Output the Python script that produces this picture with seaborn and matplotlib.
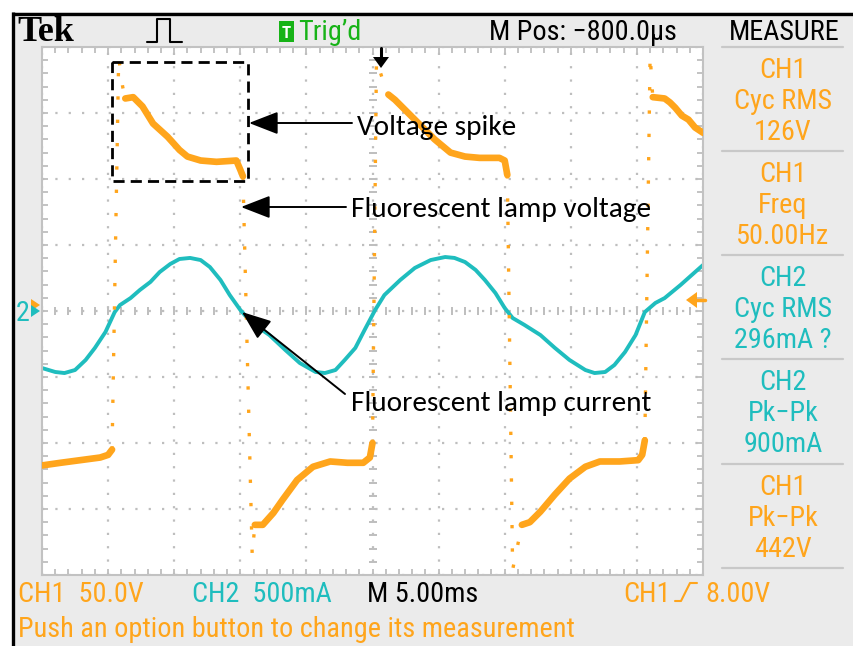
import matplotlib
matplotlib.use("Agg")
import matplotlib.pyplot as plt
from matplotlib import font_manager as fm
from matplotlib.patches import Rectangle, Polygon
from matplotlib.ticker import MultipleLocator
import numpy as np
import pandas as pd
import seaborn as sns

# ---------------- data ----------------
# CH2: lamp current, time in ms (5 ms/div), current in mA (500 mA/div)
cur_t = [0.0, 1.0, 1.7, 2.5, 3.3, 4.0, 4.8, 5.5, 5.9, 6.7,
         7.4, 8.2, 8.9, 9.7, 10.4, 11.2, 12.0, 12.7, 13.5, 14.2,
         15.0, 15.4, 16.1, 17.2, 18.4, 19.5, 20.7, 21.4, 22.2, 22.9,
         23.7, 24.4, 25.2, 25.9, 27.1, 28.2, 29.4, 30.5, 31.2, 32.0,
         32.8, 33.5, 34.3, 35.0, 35.6, 36.5, 37.7, 38.8, 39.9, 41.1,
         41.8, 42.6, 43.3, 44.1, 44.9, 45.6, 46.4, 47.1, 48.3, 49.4, 50.0]
cur_mA = [-432, -462, -470, -447, -371, -280, -159, -8, 45, 98,
          159, 220, 295, 356, 394, 402, 386, 333, 235, 121,
          8, -38, -106, -182, -295, -394, -462, -470, -447, -371,
          -280, -144, 8, 121, 235, 326, 386, 409, 402, 371,
          311, 235, 136, 23, -53, -106, -182, -280, -371, -447,
          -470, -462, -409, -311, -182, -8, 61, 98, 197, 295, 348]

# CH1: lamp voltage (50 V/div), plateaus (solid) and fast edges (dotted)
seg0_t = [0.0, 1.4, 2.9, 4.4, 5.0, 5.3]
seg0_V = [-117, -115, -113, -111, -109, -105]
edge1_t = [5.3, 5.8, 6.1, 6.3]
edge1_V = [-105, 192, 170, 161]
seg1_t = [6.3, 6.9, 7.6, 8.4, 9.5, 10.4, 11.0, 12.0, 13.2, 14.7, 15.0, 15.2]
seg1_V = [161, 162, 155, 142, 132, 122, 117, 114, 113, 114, 107, 102]
edge2_t = [15.2, 15.9, 16.1]
edge2_V = [102, -185, -162]
seg2_t = [16.1, 16.7, 17.5, 18.2, 19.3, 20.5, 21.8, 23.1, 24.3, 24.8, 25.0]
seg2_V = [-162, -162, -153, -143, -128, -118, -114, -115, -115, -111, -100]
edge3_t = [25.0, 25.3, 26.0, 26.2]
edge3_V = [-100, 190, 168, 164]
seg3_t = [26.2, 26.7, 27.5, 28.6, 29.7, 30.9, 32.0, 33.1, 34.6, 35.0, 35.2]
seg3_V = [164, 160, 152, 141, 130, 120, 117, 116, 116, 114, 103]
edge4_t = [35.2, 35.6, 36.3]
edge4_V = [103, -196, -162]
seg4_t = [36.3, 36.9, 37.7, 38.8, 39.9, 41.1, 42.2, 43.7, 45.1, 45.4, 45.6]
seg4_V = [-162, -160, -152, -139, -127, -118, -114, -114, -113, -109, -98]
edge5_t = [45.6, 46.0, 46.2]
edge5_V = [-98, 194, 162]
seg5_t = [46.2, 47.1, 47.5, 47.9, 48.4, 48.9, 49.4, 50.0]
seg5_V = [162, 161, 158, 154, 148, 145, 139, 135]

plateaus = [(seg0_t, seg0_V), (seg1_t, seg1_V), (seg2_t, seg2_V),
            (seg3_t, seg3_V), (seg4_t, seg4_V), (seg5_t, seg5_V)]
edges = [(edge1_t, edge1_V), (edge2_t, edge2_V), (edge3_t, edge3_V),
         (edge4_t, edge4_V), (edge5_t, edge5_V)]

header_texts = ["Tek", "Trig\u2019d", "M Pos: \u2212800.0\u00b5s", "MEASURE"]
measure_groups = [("CH1", "Cyc RMS", "126V"), ("CH1", "Freq", "50.00Hz"),
                  ("CH2", "Cyc RMS", "296mA ?"), ("CH2", "Pk\u2212Pk", "900mA"),
                  ("CH1", "Pk\u2212Pk", "442V")]
measure_channels = ["CH1", "CH1", "CH2", "CH2", "CH1"]
bottom_scale = ["CH1  50.0V", "CH2  500mA", "M 5.00ms", "CH1", "8.00V"]
status_text = "Push an option button to change its measurement"
notes = ["Voltage spike", "Fluorescent lamp voltage", "Fluorescent lamp current"]

# ---------------- styling ----------------
ORANGE = "#FFA51C"
TEAL = "#1FBDBE"
GREEN = "#17B317"
PANEL = "#EBEBEB"
GRID = "#BEBEBE"

sns.set_theme(style="white")
plt.rcParams["font.family"] = ["DejaVu Sans"]

names = {f.name for f in fm.fontManager.ttflist}
SCOPE_FONT = next((n for n in ["Roboto Condensed", "Liberation Sans Narrow",
                               "Archivo Narrow", "Liberation Sans"] if n in names), "DejaVu Sans")
NOTE_FONT = next((n for n in ["Carlito", "Calibri", "Lato", "Open Sans"] if n in names), "DejaVu Sans")

W, H = 854, 646
fig = plt.figure(figsize=(W / 100, H / 100), dpi=100)
fig.patch.set_facecolor(PANEL)
renderer = fig.canvas.get_renderer()


def fit_size(s, family, target, base=20, **kw):
    t = fig.text(0, 0, s, fontfamily=family, fontsize=base, **kw)
    w = t.get_window_extent(renderer).width
    t.remove()
    return base * target / w


SF = [SCOPE_FONT, "DejaVu Sans"]
NF = [NOTE_FONT, "DejaVu Sans"]
SCOPE_SIZE = fit_size(status_text, SF, 554)
NOTE_SIZE = fit_size(notes[1], NF, 300)
TEK_SIZE = fit_size("Tek", "Liberation Serif", 57, fontweight="bold")

# ---------------- scope screen ----------------
L, R, T, B = 42, 703, 47, 575
ax = fig.add_axes([L / W, 1 - B / H, (R - L) / W, (B - T) / H])
ax.set_facecolor("white")
ax.set_xlim(0, 50)
ax.set_ylim(-2000, 2000)          # CH2 scale, 500 mA/div
ax.xaxis.set_major_locator(MultipleLocator(5))
ax.xaxis.set_minor_locator(MultipleLocator(1))
ax.yaxis.set_major_locator(MultipleLocator(500))
ax.yaxis.set_minor_locator(MultipleLocator(100))
ax.set_axisbelow(True)
ax.grid(True, which="major", color=GRID, linestyle=(0, (1, 5.0)), linewidth=1.6)
for s in ax.spines.values():
    s.set_color("#C2C2C2")
    s.set_linewidth(1.5)
# centre cross-hair ticks
ax.plot(np.arange(0, 50.01, 1), np.zeros(51), ls="none", marker="|", ms=6, mew=1.4, color=GRID, zorder=1)
ax.plot(np.full(41, 25.0), np.arange(-2000, 2001, 100), ls="none", marker="_", ms=6, mew=1.4, color=GRID, zorder=1)

cur_df = pd.DataFrame({"t": cur_t, "mA": cur_mA})
sns.lineplot(data=cur_df, x="t", y="mA", sort=False, estimator=None, color=TEAL, lw=2.8, ax=ax)

axv = ax.twinx()
axv.set_ylim(-200, 200)           # CH1 scale, 50 V/div
axv.set_xlim(0, 50)
rows = []
for i, (tt, vv) in enumerate(plateaus):
    rows += [{"t": a, "V": b, "seg": i} for a, b in zip(tt, vv)]
pl_df = pd.DataFrame(rows)
rows = []
for i, (tt, vv) in enumerate(edges):
    rows += [{"t": a, "V": b, "seg": i} for a, b in zip(tt, vv)]
ed_df = pd.DataFrame(rows)
sns.lineplot(data=pl_df, x="t", y="V", units="seg", estimator=None, sort=False,
             color=ORANGE, lw=4.8, ax=axv)
sns.lineplot(data=ed_df, x="t", y="V", units="seg", estimator=None, sort=False,
             color=ORANGE, lw=2.4, linestyle=(0, (1, 6)), ax=axv)
axv.axis("off")

ax.set_xlabel("")
ax.set_ylabel("")
ax.tick_params(which="both", direction="in", length=4, width=1.3, color=GRID,
               top=True, right=True, bottom=True, left=True,
               labelbottom=False, labelleft=False, labeltop=False, labelright=False)
if ax.get_legend():
    ax.get_legend().remove()

# ---------------- overlay (pixel coordinates) ----------------
ov = fig.add_axes([0, 0, 1, 1], zorder=20)
ov.set_xlim(0, W)
ov.set_ylim(H, 0)
ov.axis("off")
ov.patch.set_alpha(0)

# outer frame
ov.add_patch(Rectangle((0, 0), W, 12, color="white", lw=0))
ov.add_patch(Rectangle((0, 0), 12, H, color="white", lw=0))
ov.plot([13.5, 13.5], [12, H], color="black", lw=2.4, solid_capstyle="butt")
ov.plot([12, W], [13.5, 13.5], color="black", lw=2.4, solid_capstyle="butt")

# header
ov.text(17, 41, header_texts[0], fontfamily="Liberation Serif", fontweight="bold",
        fontsize=TEK_SIZE, color="black", ha="left", va="baseline")
ov.plot([147, 157, 157, 170, 170, 182], [42, 42, 19, 19, 42, 42], color="black", lw=1.5)
ov.add_patch(Rectangle((279, 21), 15, 21, color=GREEN, lw=0))
ov.text(286.5, 38, "T", fontfamily=SF, fontsize=SCOPE_SIZE * 0.6, color="white",
        ha="center", va="baseline", fontweight="bold")
ov.text(298, 40, header_texts[1], fontfamily=SF, fontsize=SCOPE_SIZE, color=GREEN, ha="left", va="baseline")
ov.text(489, 40, header_texts[2], fontfamily=SF, fontsize=SCOPE_SIZE, color="black", ha="left", va="baseline")
ov.text(729, 40, header_texts[3], fontfamily=SF, fontsize=SCOPE_SIZE, color="black", ha="left", va="baseline")

# measurement panel
seps = [47, 151, 255, 359, 464, 568]
for y in seps:
    ov.plot([722, 843], [y, y], color="#C8C8C8", lw=1.6)
for g, (lines, ch) in enumerate(zip(measure_groups, measure_channels)):
    col = ORANGE if ch == "CH1" else TEAL
    for k, s in enumerate(lines):
        ov.text(783, seps[g] + 31 + 31 * k, s, fontfamily=SF, fontsize=SCOPE_SIZE,
                color=col, ha="center", va="baseline")

# bottom status
ov.text(18, 602, bottom_scale[0], fontfamily=SF, fontsize=SCOPE_SIZE, color=ORANGE, ha="left", va="baseline")
ov.text(192, 602, bottom_scale[1], fontfamily=SF, fontsize=SCOPE_SIZE, color=TEAL, ha="left", va="baseline")
ov.text(367, 602, bottom_scale[2], fontfamily=SF, fontsize=SCOPE_SIZE, color="black", ha="left", va="baseline")
ov.text(623, 602, bottom_scale[3], fontfamily=SF, fontsize=SCOPE_SIZE, color=ORANGE, ha="left", va="baseline")
ov.plot([675, 681, 690, 697], [601, 601, 583, 583], color=ORANGE, lw=1.5)
ov.text(705, 602, bottom_scale[4], fontfamily=SF, fontsize=SCOPE_SIZE, color=ORANGE, ha="left", va="baseline")
ov.text(18, 637, status_text, fontfamily=SF, fontsize=SCOPE_SIZE, color=ORANGE, ha="left", va="baseline")

# channel / trigger markers
ov.add_patch(Polygon([(31, 299), (40, 305), (31, 311)], color=ORANGE, lw=0))
ov.text(16, 321, "2", fontfamily=SF, fontsize=SCOPE_SIZE, color=TEAL, ha="left", va="baseline")
ov.add_patch(Polygon([(31, 305), (40, 311), (31, 317)], color=TEAL, lw=0))
ov.plot([381, 381], [48, 59], color="black", lw=2.2)
ov.add_patch(Polygon([(373, 57), (389, 57), (381, 68)], color="black", lw=0))
ov.add_patch(Polygon([(686, 300), (697, 292), (697, 308)], color=ORANGE, lw=0))
ov.plot([696, 705], [300, 300], color=ORANGE, lw=2.5)

# annotations
ov.add_patch(Rectangle((112, 62), 136, 119, fill=False, ec="black", lw=2.0, ls=(0, (4, 2.2))))
arrow = dict(arrowstyle="-|>,head_length=0.9,head_width=0.35", color="black", lw=1.4,
             mutation_scale=20, shrinkA=0, shrinkB=0)
ov.annotate("", xy=(249, 123), xytext=(352, 123), arrowprops=arrow)
ov.annotate("", xy=(241, 207), xytext=(346, 207), arrowprops=arrow)
ov.annotate("", xy=(242, 312), xytext=(345, 394), arrowprops=arrow)
ov.text(357, 128, notes[0], fontfamily=NF, fontsize=NOTE_SIZE, color="black", ha="left", va="center")
ov.text(351, 210, notes[1], fontfamily=NF, fontsize=NOTE_SIZE, color="black", ha="left", va="center")
ov.text(351, 403, notes[2], fontfamily=NF, fontsize=NOTE_SIZE, color="black", ha="left", va="center")

fig.savefig("out.png", dpi=100, facecolor=fig.get_facecolor())
